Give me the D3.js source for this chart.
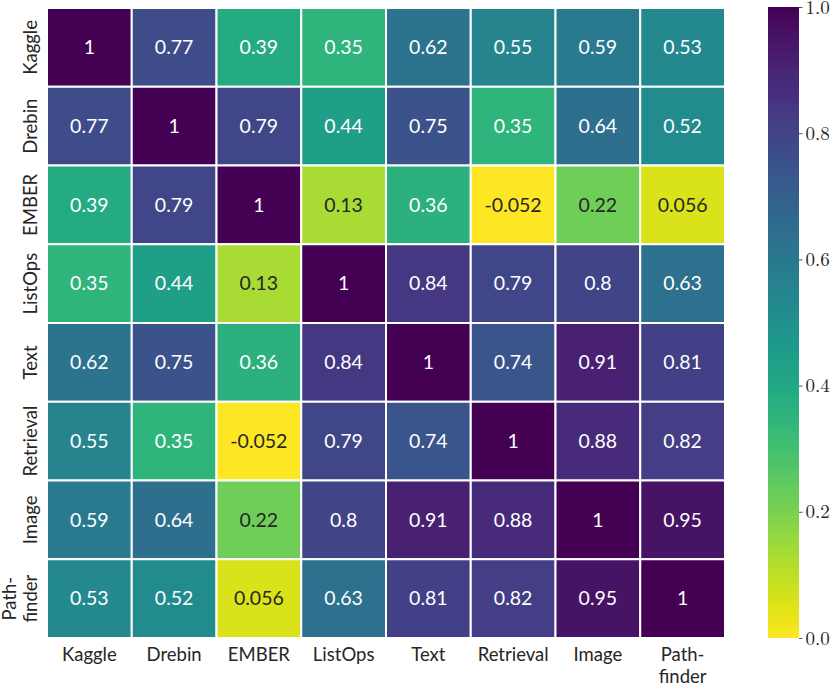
<!DOCTYPE html>
<html>
<head>
<meta charset="utf-8">
<script src="https://cdn.jsdelivr.net/npm/d3@7"></script>
<style>
  body { margin: 0; background: #fff; }
  svg { display: block; }
</style>
</head>
<body>
<div id="chart"></div>
<script>
// categories (rows and columns share them)
const categories = ["Kaggle", "Drebin", "EMBER", "ListOps", "Text", "Retrieval", "Image", "Path-\nfinder"];

// correlation matrix, one row per category
const rowKaggle    = [1, 0.77, 0.39, 0.35, 0.62, 0.55, 0.59, 0.53];
const rowDrebin    = [0.77, 1, 0.79, 0.44, 0.75, 0.35, 0.64, 0.52];
const rowEmber     = [0.39, 0.79, 1, 0.13, 0.36, -0.052, 0.22, 0.056];
const rowListOps   = [0.35, 0.44, 0.13, 1, 0.84, 0.79, 0.8, 0.63];
const rowText      = [0.62, 0.75, 0.36, 0.84, 1, 0.74, 0.91, 0.81];
const rowRetrieval = [0.55, 0.35, -0.052, 0.79, 0.74, 1, 0.88, 0.82];
const rowImage     = [0.59, 0.64, 0.22, 0.8, 0.91, 0.88, 1, 0.95];
const rowPath      = [0.53, 0.52, 0.056, 0.63, 0.81, 0.82, 0.95, 1];
const matrix = [rowKaggle, rowDrebin, rowEmber, rowListOps, rowText, rowRetrieval, rowImage, rowPath];

// colorbar ticks
const cbarTicks = [0.0, 0.2, 0.4, 0.6, 0.8, 1.0];

const W = 831, H = 686;
const grid = { left: 47, top: 8, right: 725, bottom: 638 };
const cbar = { x: 768, w: 31, top: 7, bottom: 638 };

const svg = d3.select("#chart").append("svg")
    .attr("width", W)
    .attr("height", H);

const x = d3.scaleBand().domain(d3.range(categories.length)).range([grid.left, grid.right]);
const y = d3.scaleBand().domain(d3.range(categories.length)).range([grid.top, grid.bottom]);

// reversed viridis, clamped to [0, 1]
const color = d3.scaleSequential(t => d3.interpolateViridis(1 - t)).domain([0, 1]).clamp(true);

function textColor(c) {
    const rgb = d3.rgb(c);
    const lin = v => { v /= 255; return v <= 0.03928 ? v / 12.92 : Math.pow((v + 0.055) / 1.055, 2.4); };
    const lum = 0.2126 * lin(rgb.r) + 0.7152 * lin(rgb.g) + 0.0722 * lin(rgb.b);
    return lum > 0.408 ? "#262626" : "#ffffff";
}

const labelFont = "Lato, 'Open Sans', sans-serif";

const cells = [];
matrix.forEach((row, i) => row.forEach((v, j) => cells.push({ i, j, v })));

const cellG = svg.append("g");
cellG.selectAll("rect")
    .data(cells)
    .enter()
    .append("rect")
    .attr("x", d => x(d.j))
    .attr("y", d => y(d.i))
    .attr("width", x.bandwidth())
    .attr("height", y.bandwidth())
    .attr("fill", d => color(d.v))
    .attr("stroke", "#fff")
    .attr("stroke-width", 2);

cellG.selectAll("text")
    .data(cells)
    .enter()
    .append("text")
    .attr("x", d => x(d.j) + x.bandwidth() / 2)
    .attr("y", d => y(d.i) + y.bandwidth() / 2)
    .attr("dy", "0.35em")
    .attr("text-anchor", "middle")
    .style("font-family", labelFont)
    .style("font-size", "19.5px")
    .attr("fill", d => textColor(color(d.v)))
    .text(d => String(d.v));

// x labels (first line on a common baseline, extra lines below)
categories.forEach((c, j) => {
    const cx = x(j) + x.bandwidth() / 2;
    const t = svg.append("text")
        .attr("x", cx)
        .attr("y", grid.bottom + 23)
        .attr("text-anchor", "middle")
        .style("font-family", labelFont)
        .style("font-size", "18.5px")
        .attr("fill", "#262626");
    c.split("\n").forEach((l, k) => {
        t.append("tspan")
            .attr("x", cx)
            .attr("dy", k === 0 ? 0 : 21.5)
            .text(l);
    });
});

// y labels (rotated, last line on a common baseline)
categories.forEach((c, i) => {
    const lines = c.split("\n");
    const cy = y(i) + y.bandwidth() / 2;
    const t = svg.append("text")
        .attr("transform", `translate(37,${cy}) rotate(-90)`)
        .attr("text-anchor", "middle")
        .style("font-family", labelFont)
        .style("font-size", "18.5px")
        .attr("fill", "#262626");
    lines.forEach((l, k) => {
        t.append("tspan")
            .attr("x", 0)
            .attr("y", (k - (lines.length - 1)) * 21)
            .text(l);
    });
});

// colorbar
const defs = svg.append("defs");
const grad = defs.append("linearGradient")
    .attr("id", "cbarGrad")
    .attr("x1", 0).attr("y1", 1)
    .attr("x2", 0).attr("y2", 0);
d3.range(0, 1.0001, 0.02).forEach(t => {
    grad.append("stop")
        .attr("offset", `${t * 100}%`)
        .attr("stop-color", color(t));
});

const cScale = d3.scaleLinear().domain([0, 1]).range([cbar.bottom, cbar.top]);

svg.append("rect")
    .attr("x", cbar.x)
    .attr("y", cbar.top)
    .attr("width", cbar.w)
    .attr("height", cbar.bottom - cbar.top)
    .attr("fill", "url(#cbarGrad)");

const cAxis = svg.append("g")
    .attr("transform", `translate(${cbar.x + cbar.w},0)`)
    .call(d3.axisRight(cScale).tickValues(cbarTicks).tickFormat(d3.format(".1f")).tickSize(3.5).tickPadding(3));
cAxis.select(".domain").remove();
cAxis.selectAll("line").attr("stroke", "#262626").attr("stroke-width", 0.8);
cAxis.selectAll("text")
    .style("font-family", "'Latin Modern Roman', 'Liberation Serif', serif")
    .style("font-size", "19px")
    .attr("fill", "#262626");
</script>
</body>
</html>
